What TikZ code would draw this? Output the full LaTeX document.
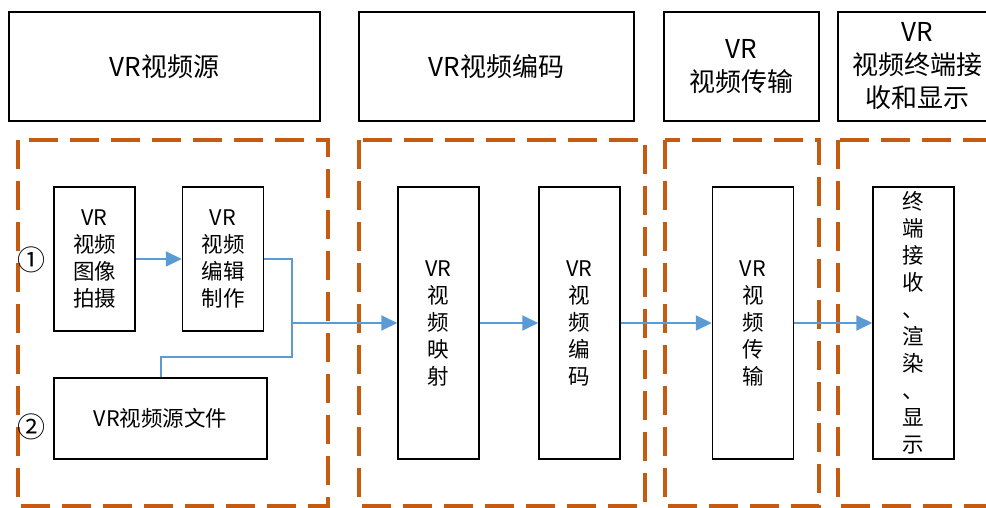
\documentclass[tikz,border=0pt]{standalone}
\usepackage{fontspec}
\setmainfont{Noto Sans CJK SC}
\usetikzlibrary{arrows.meta}
\definecolor{regionorange}{RGB}{197,90,17}
\definecolor{flowblue}{RGB}{91,155,213}

\begin{document}
\begin{tikzpicture}[x=1pt,y=-1pt,
  stage/.style={draw=black,line width=1.5pt,minimum height=109pt,inner sep=0pt,align=center,font=\fontsize{26}{33}\selectfont},
  block/.style={draw=black,line width=1.5pt,minimum width=81pt,inner sep=0pt,align=center,font=\fontsize{21.5}{27}\selectfont},
  region/.style={draw=regionorange,line width=3.5pt,dash pattern=on 29pt off 12pt},
  flow/.style={draw=flowblue,line width=2pt},
  flowarrow/.style={flow,-{Triangle[length=16pt,width=15pt]}},
  numlabel/.style={font=\fontsize{28}{28}\selectfont,inner sep=0pt}]

\clip (0,0) rectangle (986,508);

\node[stage,minimum width=311pt] (src) at (164.5,66.5) {VR视频源};
\node[stage,minimum width=275pt] (code) at (496.5,66.5) {VR视频编码};
\node[stage,minimum width=155pt] (net) at (741.5,66.5) {VR\\视频传输};
\node[stage,minimum width=158pt] (show) at (917,66.5) {VR\\视频终端接\\收和显示};

\draw[region] (18,140) rectangle (328,506);
\draw[region] (359,140) rectangle (645,506);
\draw[region] (665,140) rectangle (819,506);
\draw[region] (838,140) rectangle (1000,506);

\node[block,minimum height=144pt] (shoot) at (94.5,259) {VR\\视频\\图像\\拍摄};
\node[block,minimum height=144pt] (edit) at (223,259) {VR\\视频\\编辑\\制作};
\node[block,minimum width=213pt,minimum height=81pt] (file) at (160.5,418.5) {VR视频源文件};
\node[block,minimum height=272pt] (map) at (438.5,323) {VR\\视\\频\\映\\射};
\node[block,minimum height=272pt] (enc) at (579.5,323) {VR\\视\\频\\编\\码};
\node[block,minimum height=272pt] (trans) at (753,323) {VR\\视\\频\\传\\输};
\node[block,minimum height=272pt] (term) at (913.5,323) {终\\端\\接\\收\\、\\渲\\染\\、\\显\\示};

\node[numlabel] (one) at (31,260) {①};
\node[numlabel] (two) at (31,427) {②};

\coordinate (join) at (292,323);
\coordinate (fork) at (292,357);

\draw[flowarrow] (shoot) -- (edit);
\draw[flow] (edit.east) -| (join);
\draw[flow] (file.north) |- (fork) -- (join);
\draw[flowarrow] (join) -- (map);
\draw[flowarrow] (map) -- (enc);
\draw[flowarrow] (enc) -- (trans);
\draw[flowarrow] (trans) -- (term);

\end{tikzpicture}
\end{document}
